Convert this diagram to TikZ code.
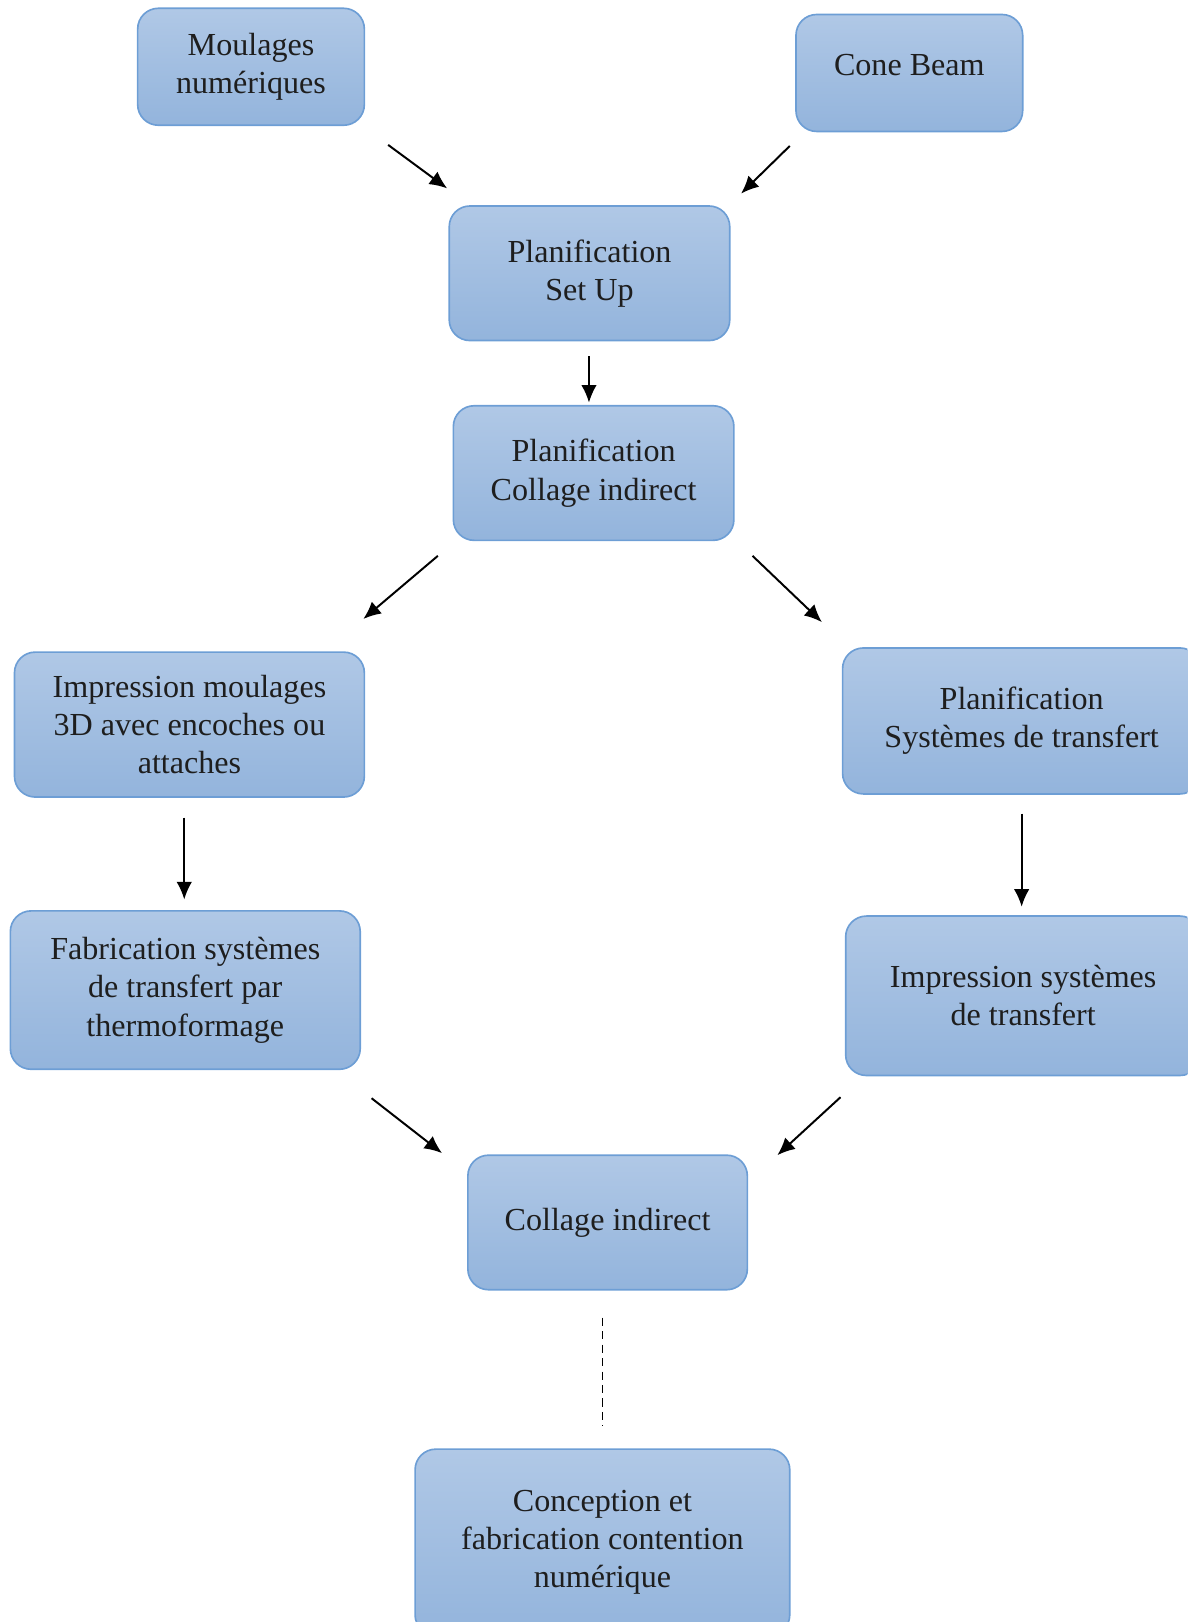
\documentclass[tikz,border=0pt]{standalone}
\usepackage{fontspec}
\setmainfont{Liberation Serif}
\usetikzlibrary{arrows.meta}
\definecolor{boxtop}{HTML}{B0C8E6}
\definecolor{boxbot}{HTML}{93B4DC}
\definecolor{boxline}{HTML}{6D9ED5}
\definecolor{txt}{HTML}{1E1E1E}
\tikzset{
  box/.style={draw=boxline, line width=1.6pt, rounded corners=20pt,
    top color=boxtop, bottom color=boxbot, align=center, text=txt,
    font=\fontsize{31}{37}\selectfont, inner sep=0pt},
  arr/.style={line width=1.9pt, -{Latex[length=17pt,width=15pt]}},
  dashline/.style={line width=1.6pt, dash pattern=on 8pt off 5pt}
}
\begin{document}
\begin{tikzpicture}[x=1pt,y=-1pt]
\useasboundingbox (0,0) rectangle (1147,1567);
\clip (0,0) rectangle (1147,1567);
% boxes
\node[box, minimum width=219pt, minimum height=113pt] (mn) at (242.5,64.5) {Moulages\\numériques};
\node[box, minimum width=219pt, minimum height=113pt] (cb) at (878.5,70.5) {\raisebox{16pt}{Cone Beam}};
\node[box, minimum width=271pt, minimum height=130pt] (ps) at (569.5,264) {Planification\\Set Up};
\node[box, minimum width=271pt, minimum height=130pt] (pc) at (573.5,457) {Planification\\Collage indirect};
\node[box, minimum width=338pt, minimum height=140pt] (im) at (183,700) {Impression moulages\\3D avec encoches ou\\attaches};
\node[box, minimum width=346pt, minimum height=141pt] (pst) at (987,696.5) {Planification\\Systèmes de transfert};
\node[box, minimum width=338pt, minimum height=153pt] (fab) at (179,956.5) {Fabrication systèmes\\de transfert par\\thermoformage};
\node[box, minimum width=343pt, minimum height=154pt] (ist) at (988.5,962) {Impression systèmes\\de transfert};
\node[box, minimum width=270pt, minimum height=130pt] (ci) at (587,1181) {Collage indirect};
\node[box, minimum width=362pt, minimum height=180pt] (co) at (582,1490) {Conception et\\fabrication contention\\numérique};
% arrow end points
\coordinate (a1s) at (375,140); \coordinate (a1e) at (432,182);
\coordinate (a2s) at (763,141); \coordinate (a2e) at (716,187);
\coordinate (a3s) at (569,344); \coordinate (a3e) at (569,389);
\coordinate (a4s) at (423,537); \coordinate (a4e) at (351,598);
\coordinate (a5s) at (727,537); \coordinate (a5e) at (794,601);
\coordinate (a6s) at (178,790); \coordinate (a6e) at (178,869);
\coordinate (a7s) at (987,786); \coordinate (a7e) at (987,876);
\coordinate (a8s) at (359,1061); \coordinate (a8e) at (427,1114);
\coordinate (a9s) at (812,1060); \coordinate (a9e) at (751,1116);
\coordinate (d1s) at (582,1273); \coordinate (d1e) at (582,1378);
% connectors
\draw[arr] (a1s) -- (a1e);
\draw[arr] (a2s) -- (a2e);
\draw[arr] (a3s) -- (a3e);
\draw[arr] (a4s) -- (a4e);
\draw[arr] (a5s) -- (a5e);
\draw[arr] (a6s) -- (a6e);
\draw[arr] (a7s) -- (a7e);
\draw[arr] (a8s) -- (a8e);
\draw[arr] (a9s) -- (a9e);
\draw[dashline] (d1s) -- (d1e);
\end{tikzpicture}
\end{document}
